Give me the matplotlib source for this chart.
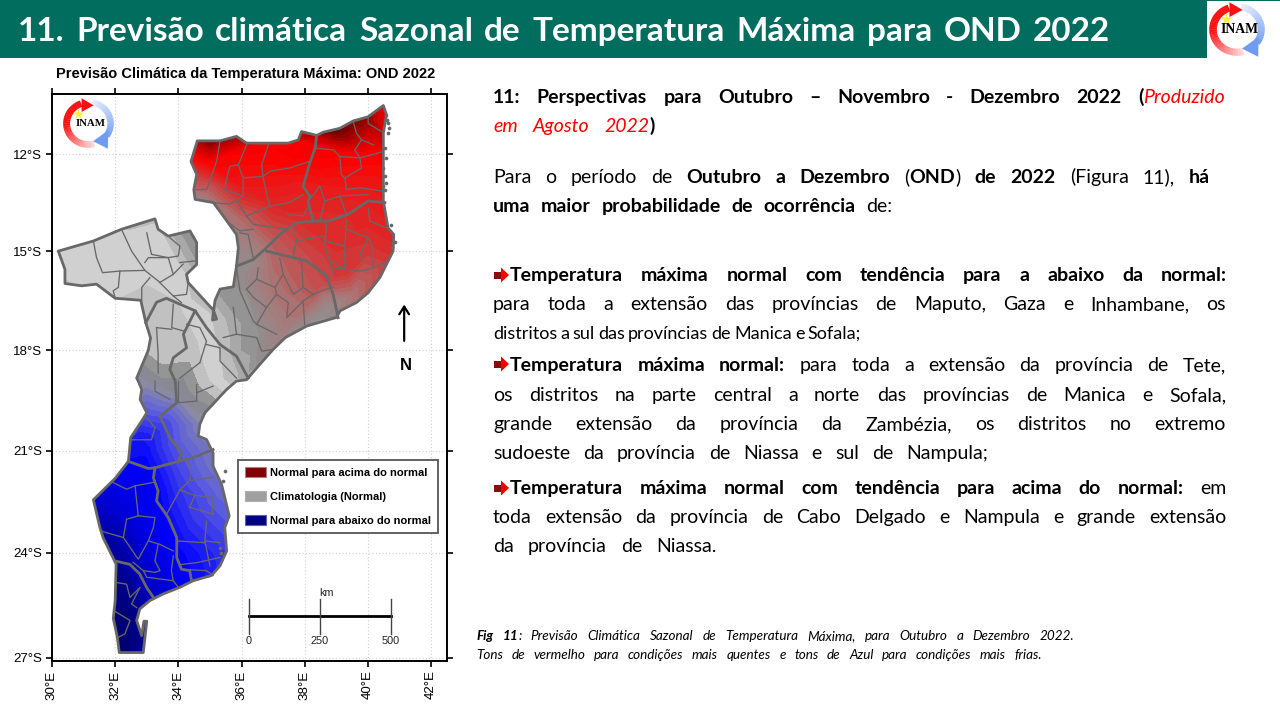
import numpy as np
import matplotlib
matplotlib.use("Agg")
import matplotlib.pyplot as plt
from matplotlib.colors import LinearSegmentedColormap, to_rgb
from matplotlib.patches import Polygon, Patch, Wedge, Rectangle
from matplotlib.transforms import Affine2D

# ---------------- data ----------------
outline_lon = [34.60,35.32,35.84,36.16,36.79,37.48,37.80,37.90,38.38,38.59,39.11,39.54,40.01,40.49,40.59,40.49,40.49,40.49,40.64,40.82,40.80,40.64,40.38,40.01,39.64,39.12,39.01,38.07,37.39,37.00,36.58,36.16,35.84,35.53,34.84,34.68,34.63,34.89,35.10,35.10,35.37,35.47,35.61,35.47,35.53,35.32,35.05,34.47,34.05,33.52,33.10,32.78,32.68,32.84,32.91,33.00,32.89,32.13,32.07,31.94,32.00,32.03,31.62,31.52,31.31,32.00,32.42,32.49,32.84,33.00,32.79,32.84,32.73,32.68,33.05,33.12,32.97,32.81,32.00,31.41,30.94,30.41,30.41,30.20,31.31,32.20,33.26,33.36,33.68,34.37,34.58,34.58,34.26,34.31,35.11,35.21,35.08,35.16,35.32,35.74,35.84,35.90,35.84,35.42,35.11,34.53,34.49,34.58,34.40]
outline_lat = [11.59,11.59,11.45,11.66,11.66,11.66,11.56,11.30,11.42,11.32,11.20,10.97,10.84,10.49,10.78,11.35,12.23,13.45,14.28,14.48,14.99,15.30,15.80,16.26,16.56,16.81,17.01,17.27,17.62,17.98,18.43,18.89,18.93,19.18,19.88,20.22,20.57,20.67,21.07,21.46,22.00,22.38,22.92,23.26,23.94,24.37,24.65,24.80,24.99,25.18,25.37,25.61,25.94,26.37,25.96,25.96,26.85,26.85,26.42,25.88,25.38,24.32,23.56,23.27,22.45,21.82,21.32,20.62,20.12,19.88,19.48,19.18,18.93,18.84,18.00,17.63,17.17,16.49,16.43,16.00,16.05,15.98,15.55,14.99,14.68,14.32,14.00,14.32,14.53,14.37,14.73,15.40,15.70,15.95,16.79,17.06,17.09,16.50,16.15,16.08,15.45,14.89,14.48,13.91,13.50,13.40,13.10,12.63,12.23]

province_lines = [
 [(38.38,11.42),(38.33,11.82),(38.16,12.28),(37.95,13.0),(38.16,13.30),(38.11,13.50),(38.27,14.07)],
 [(40.54,13.50),(40.01,13.45),(39.38,13.86),(38.74,14.07),(38.27,14.07),(37.74,14.12),(37.21,14.48),(36.79,14.89),(36.37,15.25),(35.84,15.45)],
 [(36.79,14.99),(37.43,15.14),(38.06,15.29),(38.69,15.75),(38.90,16.31),(39.06,17.02)],
 [(32.97,17.17),(33.31,16.55),(33.62,16.43),(34.05,16.61),(34.53,16.81),(34.89,17.32),(35.32,17.83),(35.84,18.18),(36.21,18.84)],
 [(34.53,16.81),(34.16,17.52),(34.26,17.93),(33.84,18.23),(33.73,18.58),(33.90,18.93),(33.95,19.58),(33.42,19.98),(33.73,20.62),(34.10,21.07),(34.0,21.32)],
 [(32.42,21.32),(33.05,21.53),(33.26,21.51),(34.0,21.32),(34.58,21.17),(35.10,20.97)],
 [(33.26,21.51),(33.21,21.80),(33.36,22.19),(33.31,22.48),(33.68,22.97),(33.95,23.55),(33.95,24.14),(34.10,24.47),(34.36,24.51),(34.42,24.80)],
 [(32.0,24.23),(32.47,24.33),(32.78,24.61),(33.0,25.0),(33.21,25.28)],
]
district_lines = [
 [(40.01,10.84),(40.01,11.05),(40.43,11.30)],
 [(39.54,11.0),(39.64,11.35),(39.80,11.56),(40.17,11.71)],
 [(39.80,11.56),(39.59,11.87),(39.75,12.12),(40.49,11.92)],
 [(38.38,11.82),(38.91,11.87),(39.11,12.07),(39.75,12.12)],
 [(39.75,12.12),(39.80,12.43),(39.27,12.74),(39.32,13.10),(39.75,13.04),(40.49,13.15)],
 [(39.11,12.07),(39.16,12.64),(39.27,12.74)],
 [(35.32,11.59),(35.21,12.23),(34.90,13.10),(34.53,13.10)],
 [(36.16,11.71),(35.90,12.33),(35.63,12.38),(35.53,12.74),(35.47,13.10),(36.05,13.30)],
 [(35.90,12.33),(36.05,12.74),(36.68,12.69),(36.90,12.53),(37.52,12.43),(38.16,12.23)],
 [(36.85,11.71),(36.64,12.33),(36.68,12.69)],
 [(36.05,12.79),(36.05,13.30),(35.84,13.45),(36.16,13.91)],
 [(36.68,12.69),(36.79,13.20),(36.90,13.61),(37.52,13.50),(37.95,13.25)],
 [(35.11,13.50),(35.63,13.55),(35.84,13.45)],
 [(36.16,13.91),(36.90,13.61)],
 [(37.43,13.86),(37.95,13.91),(38.16,13.56)],
 [(36.16,13.91),(36.37,14.17),(37.43,14.32)],
 [(35.53,14.07),(35.95,14.37),(36.37,14.32)],
 [(35.95,14.43),(36.21,14.48),(36.37,15.19)],
 [(38.16,13.40),(38.48,12.99),(38.64,13.45),(38.48,14.07)],
 [(38.64,13.45),(39.11,13.30),(39.32,13.86)],
 [(39.11,13.30),(40.01,13.25)],
 [(37.64,14.27),(37.74,14.68),(37.64,15.09)],
 [(38.69,14.17),(38.64,14.89),(38.80,15.29),(38.90,15.70)],
 [(37.74,14.68),(38.59,14.53),(38.64,14.68),(39.27,14.84),(39.32,14.07)],
 [(39.27,14.84),(39.27,15.55),(38.80,15.29)],
 [(39.32,14.32),(40.01,14.58),(40.17,14.89),(40.17,15.50),(39.75,15.60),(38.90,15.50)],
 [(40.01,14.58),(39.75,15.09),(39.85,15.29)],
 [(40.01,13.66),(40.06,14.07),(40.59,14.28)],
 [(40.17,15.50),(40.64,15.30)],
 [(36.53,15.50),(36.48,15.85),(37.06,16.10),(37.32,15.70),(37.21,15.20)],
 [(36.16,16.15),(36.48,15.85)],
 [(36.16,16.15),(36.37,16.40),(36.79,16.71),(37.11,16.31),(37.06,16.10)],
 [(37.90,15.29),(37.95,16.10),(38.27,16.31),(38.69,16.15),(38.90,16.10)],
 [(37.32,15.70),(37.64,16.31),(37.95,16.10)],
 [(37.11,16.31),(37.48,16.56),(37.43,17.02),(37.95,16.51),(38.27,16.31)],
 [(37.95,16.51),(38.00,17.22)],
 [(36.79,16.71),(36.48,17.22),(37.11,17.52)],
 [(35.84,15.50),(35.95,16.20),(36.37,17.12),(36.48,17.22)],
 [(35.42,17.62),(35.84,17.52),(36.48,17.62),(36.64,18.03),(37.00,17.98)],
 [(35.74,16.71),(35.84,17.52)],
 [(31.31,14.68),(31.41,15.19),(31.60,15.65),(32.15,15.60),(32.94,15.58)],
 [(32.20,14.32),(32.52,14.99),(32.94,15.58),(33.36,15.90),(33.84,16.36),(34.10,16.56)],
 [(32.15,15.60),(32.10,16.10),(31.94,16.20),(32.00,16.43)],
 [(33.10,15.80),(32.84,16.10),(32.84,16.51)],
 [(32.94,15.34),(33.05,15.19),(33.68,15.19),(34.00,15.14),(34.05,14.84),(33.73,14.58)],
 [(33.68,15.19),(33.84,15.70),(33.41,15.95)],
 [(33.00,14.43),(33.15,15.09),(33.68,15.19)],
 [(34.05,15.34),(34.53,15.29)],
 [(33.84,15.70),(34.15,15.39)],
 [(33.84,16.36),(34.26,16.31),(34.31,15.95)],
 [(33.31,17.32),(33.36,18.13),(33.36,18.69)],
 [(33.84,16.61),(33.79,17.32),(34.16,17.42)],
 [(33.31,17.32),(33.79,17.37)],
 [(34.26,17.22),(34.68,17.32),(34.89,17.73),(34.68,18.38)],
 [(34.89,17.83),(35.32,17.93),(35.32,18.33),(35.84,18.84)],
 [(34.68,18.38),(34.32,18.64),(34.05,18.84)],
 [(33.26,18.93),(33.26,19.23),(33.73,19.48)],
 [(34.58,19.03),(34.58,19.53),(33.95,19.58)],
 [(34.00,18.93),(34.00,19.53)],
 [(34.58,19.28),(35.10,19.08)],
 [(33.26,20.32),(33.15,20.68),(32.52,20.68)],
 [(33.00,20.02),(33.26,20.32)],
 [(31.89,21.92),(32.36,22.14),(32.63,22.04),(33.21,21.94)],
 [(32.63,22.04),(32.73,22.92),(33.26,22.97),(33.21,23.26),(33.05,23.65),(33.42,23.75),(33.84,23.94)],
 [(32.36,23.02),(32.26,23.55),(32.73,24.18),(33.05,23.65)],
 [(32.36,23.02),(32.73,22.92)],
 [(31.57,23.37),(32.26,23.55)],
 [(33.36,23.75),(33.26,24.23),(33.42,24.51),(33.26,24.56),(32.89,24.51),(32.57,24.27)],
 [(32.89,24.51),(33.00,24.70),(33.84,24.80),(34.00,24.99)],
 [(33.84,24.09),(33.78,24.51),(33.84,24.80)],
 [(32.03,24.85),(32.36,24.90),(32.47,25.28),(32.78,25.00)],
 [(32.78,25.00),(32.52,25.47),(32.68,25.57)],
 [(31.96,25.66),(32.47,25.94),(32.31,26.32),(32.10,26.42)],
 [(33.63,22.87),(34.05,22.16),(34.36,21.88),(35.10,21.79)],
 [(34.26,21.27),(34.42,21.60),(34.36,21.88)],
 [(34.05,22.16),(34.52,22.32),(35.05,22.38)],
 [(34.52,22.32),(34.36,22.67),(35.10,22.87)],
 [(35.05,22.38),(35.05,22.87)],
 [(34.89,23.07),(34.84,23.65),(35.32,23.70)],
 [(33.95,23.65),(34.84,23.70)],
 [(34.10,24.33),(34.58,24.28),(35.32,24.13)],
 [(34.10,24.47),(34.89,24.51),(35.10,24.65)],
 [(34.84,23.65),(35.00,24.37)],
]
island_lon = [40.59,40.64,40.64,40.54,40.56,40.49,40.54,40.49,40.72,40.85,40.78,35.47,35.42,35.32,35.36,40.62,40.66,40.58,40.55]
island_lat = [10.78,11.04,11.35,11.81,12.12,12.43,12.69,13.0,14.2,14.7,14.85,21.6,21.9,23.85,24.0,10.95,11.2,12.9,13.1]

# anomaly field (-1 navy .. 0 light gray .. 1 dark red)
field = [
 (34.3,11.2,.92),(35.0,11.6,.95),(36,11.8,.72),(35,12.3,.68),(34.3,12.2,.6),(35,12.9,.42),(34.9,13.3,.3),(36,13,.6),(36,14,.34),
 (37,11.6,.72),(37,12.5,.65),(37,13.5,.55),(37,14.6,.38),(38,11.6,.72),(38,12,.72),(38,13,.58),(38,14,.52),
 (39,11.3,.98),(39,11.9,.72),(39,13,.6),(39,14,.52),(39,15,.5),(40,10.9,.92),(40,12,.7),(40,13,.6),(40,14,.55),
 (40,15,.48),(40.5,10.4,.7),(40.9,12,.7),(40.9,15,.52),(39.3,15.6,.5),(38,15.2,.42),(38.5,16,.42),(39.5,16.3,.3),
 (37,15.5,.33),(36.3,15.3,.16),(36,15.9,.15),(36.2,16.5,.12),(37,16.3,.3),(37.5,17,.3),(38,16.8,.32),(38.8,16.7,.15),
 (36.5,17.5,.12),(37.2,17.5,.24),(36,17.2,.1),(36,18,.1),(36.1,18.8,.08),(35.3,16.3,.1),(35.2,14.5,.22),
 (30.2,15.3,.03),(32,15,.02),(33.5,14.6,.02),(34,15.5,.02),(33,16,.0),(34,16.5,.0),(35,16.9,.03),(30.2,14,.03),(33,13.5,.05),
 (33,18,-.03),(33.5,18,.0),(34.5,18,-.01),(35.3,18.2,.03),(35,18.9,-.0),(33.5,19,-.08),(33,18.9,-.1),(34,19.3,-.1),
 (34.5,19.8,-.1),(33.2,19.7,-.22),(33,19.5,-.2),(34.7,20.2,-.13),(33.6,20.2,-.3),(32.7,20.7,-.42),(34,20.8,-.25),
 (35,20.8,-.16),(33,21,-.42),(34,21.5,-.3),(35,21.6,-.2),(32,21.8,-.5),(33,22,-.5),(34,22.3,-.35),(35.3,22.2,-.22),
 (31.3,22.5,-.62),(32.5,22.8,-.55),(33.5,23,-.45),(34.5,23,-.33),(35.7,23,-.25),(32,23.5,-.72),(33,23.7,-.55),
 (34,24,-.45),(35.6,24,-.33),(32.3,24.5,-.78),(33,24.7,-.62),(34.3,24.8,-.45),(33.2,25.2,-.65),(32.5,25.5,-.85),
 (31.8,26,-.92),(32.1,26.9,-.92),(33,26.9,-.8),(34,25.5,-.5),(35.5,25,-.35),(31.2,24,-.8),(31.8,21.5,-.45),
]
field_lon = [p[0] for p in field]
field_lat = [p[1] for p in field]
field_val = [p[2] for p in field]

x_ticks = [30,32,34,36,38,40,42]
y_ticks = [12,15,18,21,24,27]
legend_labels = ["Normal para acima do normal","Climatologia (Normal)","Normal para abaixo do normal"]
legend_colors = ["#800000","#a0a0a0","#000080"]
legend_edges = ["#b08080","#b0b0b0","#6060b0"]
scale_km = [0,250,500]
scale_lon = [36.23,38.48,40.72]

# ---------------- figure helpers ----------------
W, H = 1280, 720
fig = plt.figure(figsize=(12.8,7.2), dpi=100, facecolor="white")
PX = Affine2D().scale(1/W,-1/H).translate(0,1) + fig.transFigure
TEAL = "#006d5f"
fig.patches.append(Rectangle((0,0),W,57.5,transform=PX,facecolor=TEAL,edgecolor="none",figure=fig))

BODY = "Lato"
renderer = fig.canvas.get_renderer()
def tw(s, **st):
    t = fig.text(0,0,s,**st)
    w = t.get_window_extent(renderer).width
    t.remove()
    return w

FS = 14.0
T = dict(family=BODY,fontsize=24.0,weight="bold",color="white")
R = dict(family=BODY,fontsize=FS)
B = dict(family=BODY,fontsize=FS,weight="bold")
I = dict(family=BODY,fontsize=FS,style="italic",color="#ff0000")
C = dict(family=BODY,fontsize=9.7,style="italic")
CB = dict(family=BODY,fontsize=9.7,style="italic",weight="bold")

def line(x0,x1,y,runs):
    groups=[[]]
    for txt,st in runs:
        parts = txt.split(" ")
        for k,p in enumerate(parts):
            if k>0: groups.append([])
            if p: groups[-1].append((p,st))
    groups=[g for g in groups if g]
    widths=[sum(tw(p,**st) for p,st in g) for g in groups]
    n=max(1,len(groups)-1)
    em=runs[0][1]["fontsize"]*100/72
    min_gap=0.17*em
    scale=1.0
    if x1-x0 < sum(widths)+n*min_gap:
        scale=(x1-x0)/(sum(widths)+n*min_gap)
        groups=[[(p,{**st,"fontsize":st["fontsize"]*scale}) for p,st in g] for g in groups]
        widths=[sum(tw(p,**st) for p,st in g) for g in groups]
    gap=(x1-x0-sum(widths))/n
    x=x0
    for g,w in zip(groups,widths):
        xx=x
        for p,st in g:
            fig.text(xx/W,1-y/H,p,va="baseline",**st)
            xx+=tw(p,**st)
        x+=w+gap

line(18,1110,41,[("11. Previsão climática Sazonal de Temperatura Máxima para OND 2022",T)])
line(493,1225,103,[("11: Perspectivas para  Outubro – Novembro - Dezembro 2022 (",B),("Produzido",I)])
line(493,655,132,[("em Agosto 2022",I),(")",B)])
line(493,1210,183,[("Para o período de ",R),("Outubro a Dezembro",B),(" (",R),("OND",B),(") ",R),("de 2022",B),(" (Figura 11), ",R),("há",B)])
line(493,892,212,[("uma maior probabilidade de ocorrência",B),(" de:",R)])
line(510,1227,281,[("Temperatura máxima normal com tendência para a abaixo da normal:",B)])
line(493,1226,310,[("para toda a extensão das províncias de Maputo, Gaza e Inhambane, os",R)])
line(493,861,339,[("distritos a sul das províncias de Manica e Sofala;",R)])
line(510,1226,371,[("Temperatura máxima normal:",B),(" para toda a extensão da província de Tete,",R)])
line(493,1226,401,[("os distritos na parte central a norte das províncias de Manica e Sofala,",R)])
line(493,1226,430,[("grande extensão da província da Zambézia, os distritos no extremo",R)])
line(493,988,459,[("sudoeste da província de Niassa e sul de Nampula;",R)])
line(510,1226,494,[("Temperatura máxima normal com tendência para acima do normal:",B),(" em",R)])
line(493,1226,523,[("toda extensão da província de Cabo Delgado e Nampula e grande extensão",R)])
line(493,717,552,[("da província de Niassa.",R)])
line(476,1074,640,[("Fig 11",CB),(": Previsão Climática Sazonal de Temperatura Máxima, para Outubro a Dezembro 2022.",C)])
line(476,1042,659,[("Tons de vermelho para condições mais quentes e tons de Azul para condições mais frias.",C)])

for yb in (275,364,488):
    fig.patches.append(Rectangle((494,yb-3.5),7,7,transform=PX,facecolor="#8c0a0a",edgecolor="none",figure=fig))
    fig.patches.append(Polygon([(501,yb-7.5),(509,yb),(501,yb+7.5)],closed=True,transform=PX,facecolor="#f00000",edgecolor="none",figure=fig))

fig.patches.append(Rectangle((1207,0.5),73,57,transform=PX,facecolor="white",edgecolor="none",figure=fig))

def logo(x0,y0,x1,y1,fs):
    a = fig.add_axes([x0/W,1-y1/H,(x1-x0)/W,(y1-y0)/H])
    a.set_xlim(-1.15,1.15); a.set_ylim(-1.15,1.15); a.axis("off")
    a.set_zorder(5)
    n=30
    red0,red1=np.array(to_rgb("#ff1010")),np.array(to_rgb("#ffe4e4"))
    blu0,blu1=np.array(to_rgb("#e6eeff")),np.array(to_rgb("#6f9cf2"))
    ang=np.linspace(110,285,n+1)
    for k in range(n):
        f=max(0,(k-n*0.4)/(n*0.6))
        a.add_patch(Wedge((0,0),1.1,ang[k]-.4,ang[k+1]+.4,width=.3,facecolor=red0+(red1-red0)*f,edgecolor="none"))
    ang=np.linspace(80,-35,n+1)
    for k in range(n):
        f=k/n
        a.add_patch(Wedge((0,0),1.1,ang[k+1]-.4,ang[k]+.4,width=.28,facecolor=blu0+(blu1-blu0)*f,edgecolor="none"))
    a.add_patch(Polygon([(-.3,1.14),(.22,.82),(-.3,.52)],closed=True,facecolor="#ff1010",edgecolor="none"))
    a.add_patch(Polygon([(.86,-.3),(.84,-1.14),(.2,-.8)],closed=True,facecolor="#6f9cf2",edgecolor="none"))
    a.plot([-.45],[.42],marker="*",ms=fs*0.9,color="#ffee33",mec="none")
    a.text(.1,-.02,"INAM",family="Liberation Serif",weight="bold",fontsize=fs,ha="center",va="center",color="black")

logo(1208,2,1266,57,9.8)
logo(62,98,115,149,7.8)

# ---------------- map ----------------
x0,x1,y0,y1 = 52,446.5,94.3,660.7
ax = fig.add_axes([x0/W,1-y1/H,(x1-x0)/W,(y1-y0)/H])
def merc(v):
    return np.log(np.tan(np.pi/4+np.radians(np.asarray(v,dtype=float))/2))
def imerc(v):
    return np.degrees(2*np.arctan(np.exp(np.asarray(v,dtype=float)))-np.pi/2)
ax.set_yscale("function",functions=(merc,imerc))
ax.set_xlim(30,42.49)
ax.set_ylim(27.08,10.14)

cmap = LinearSegmentedColormap.from_list("anom",[
 (0.0,"#000050"),(0.125,"#0000a0"),(0.275,"#0000ff"),(0.375,"#5a5ae0"),(0.44,"#8a8aa8"),(0.47,"#888888"),
 (0.5,"#dcdcdc"),(0.56,"#909090"),(0.65,"#a87878"),(0.75,"#d83030"),(0.85,"#ff0000"),(0.925,"#c00000"),(1.0,"#600000")])
levels = np.linspace(-1,1,61)
cs = ax.tricontourf(field_lon,field_lat,field_val,levels=levels,cmap=cmap,vmin=-1,vmax=1,extend="both",zorder=2)
shape = Polygon(np.column_stack([outline_lon,outline_lat]),closed=True,transform=ax.transData,facecolor="none",edgecolor="none")
ax.add_patch(shape)
cs.set_clip_path(shape)

GR = "#686868"
for ln in district_lines:
    a_=np.array(ln); ax.plot(a_[:,0],a_[:,1],color=GR,lw=0.95,zorder=3,solid_joinstyle="round")
for ln in province_lines:
    a_=np.array(ln); ax.plot(a_[:,0],a_[:,1],color=GR,lw=2.0,zorder=4,solid_joinstyle="round")
ax.add_patch(Polygon(np.column_stack([outline_lon,outline_lat]),closed=True,facecolor="none",edgecolor=GR,lw=2.0,zorder=4,joinstyle="round"))
ax.scatter(island_lon,island_lat,s=7,color=GR,zorder=4,linewidths=0)

ax.set_xticks(x_ticks); ax.set_yticks(y_ticks)
ax.minorticks_off()
ax.set_xticklabels([f"{v}°E" for v in x_ticks],rotation=90,family="Liberation Sans",fontsize=9.6)
ax.set_yticklabels([f"{v}°S" for v in y_ticks],family="Liberation Sans",fontsize=9.6)
ax.tick_params(axis="both",which="major",top=True,right=True,length=4.5,width=1.2,direction="out",pad=2.5)
ax.grid(True,color="#cfcfcf",lw=0.8,ls=(0,(1,2)),zorder=1)
ax.set_axisbelow(True)
for s in ax.spines.values():
    s.set_linewidth(1.4)

fig.text(246/W,1-78/H,"Previsão Climática da Temperatura Máxima: OND 2022",family="Liberation Sans",weight="bold",fontsize=10.5,ha="center",va="baseline")

handles=[Patch(facecolor=c,edgecolor=e,lw=0.8) for c,e in zip(legend_colors,legend_edges)]
leg=ax.legend(handles,legend_labels,loc="upper left",bbox_to_anchor=((238-x0)/(x1-x0),(y1-460)/(y1-y0)),borderaxespad=0,
   prop=dict(family="Liberation Sans",weight="bold",size=8.0),fancybox=False,framealpha=1,edgecolor="#555555",
   labelspacing=1.2,handlelength=1.9,handleheight=1.0,handletextpad=0.3,borderpad=0.65)
leg.get_frame().set_linewidth(1.3)
leg.set_zorder(6)

# scale bar
ax.plot([scale_lon[0],scale_lon[-1]],[25.81,25.81],color="black",lw=2.0,zorder=5)
for lo,km in zip(scale_lon,scale_km):
    ax.plot([lo,lo],[25.32,26.32],color="#444444",lw=1.0,zorder=5)
    ax.text(lo,26.51,str(km),ha="center",va="center",family="Liberation Sans",fontsize=7.8,color="#222222")
ax.text(38.7,25.16,"km",ha="center",va="center",family="Liberation Sans",fontsize=7.8,color="#222222")

# north arrow
ax.annotate("",xy=(41.15,16.62),xytext=(41.15,17.72),arrowprops=dict(arrowstyle="->,head_length=0.55,head_width=0.35",color="black",lw=1.6,shrinkA=0,shrinkB=0))
ax.text(41.2,18.46,"N",ha="center",va="center",family="Liberation Sans",weight="bold",fontsize=12)

fig.savefig("out.png",dpi=100)
